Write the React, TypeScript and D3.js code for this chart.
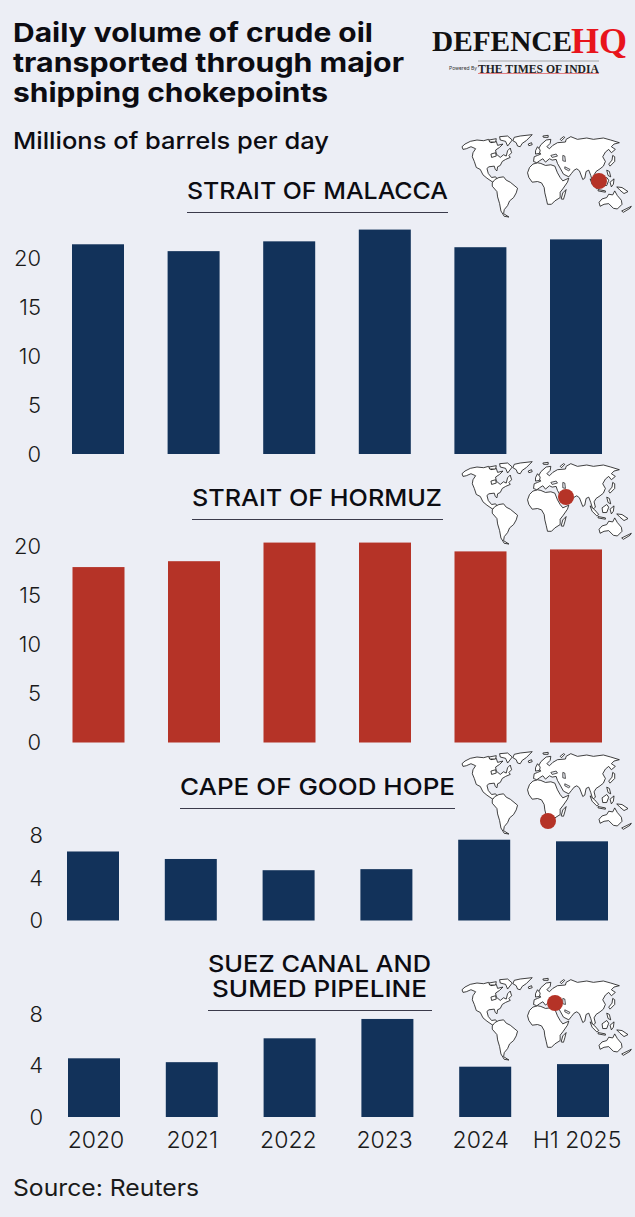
import React from "react";
import * as d3 from "d3";

const years = ["2020", "2021", "2022", "2023", "2024", "H1 2025"];
const malacca = [21.4, 20.7, 21.7, 22.9, 21.1, 21.9];
const hormuz = [17.9, 18.5, 20.4, 20.4, 19.5, 19.7];
const cape = [6.45, 5.75, 4.7, 4.8, 7.55, 7.4];
const suez = [4.55, 4.25, 6.1, 7.6, 3.9, 4.1];
const ticksLarge = [0, 5, 10, 15, 20];
const ticksSmall = [0, 4, 8];

// World outline in map units
const northAmerica: [number, number][] = [[125,440],[134,432],[150,424],[170,420],[190,422],[205,418],[212,428],[228,424],[232,436],[248,432],[238,442],[226,450],[228,462],[240,472],[250,464],[258,468],[262,452],[270,444],[274,458],[266,466],[270,472],[256,478],[246,484],[240,496],[232,500],[230,512],[225,508],[222,498],[206,500],[200,505],[204,520],[214,532],[226,530],[238,545],[230,549],[216,545],[200,534],[188,524],[180,508],[168,502],[162,484],[156,470],[158,458],[166,446],[152,440],[138,446],[128,448]];
const greenland: [number, number][] = [[282,412],[300,408],[336,404],[326,414],[318,422],[306,430],[300,440],[292,438],[288,428],[278,422]];
const southAmerica: [number, number][] = [[224,538],[236,532],[250,530],[258,540],[270,546],[292,564],[288,578],[280,592],[268,602],[262,616],[252,628],[250,640],[266,650],[252,648],[242,632],[238,610],[232,590],[230,574],[216,558],[216,548]];
const africa: [number, number][] = [[322,518],[328,502],[338,492],[352,488],[362,490],[376,496],[392,494],[404,498],[412,518],[420,532],[428,542],[446,534],[442,546],[428,566],[420,576],[420,592],[404,602],[394,612],[382,612],[378,594],[374,578],[372,562],[364,548],[352,544],[336,546],[326,532]];
const eurasia: [number, number][] = [[340,484],[342,470],[352,466],[362,462],[352,452],[362,434],[378,420],[392,418],[390,430],[380,440],[388,446],[398,436],[412,428],[436,426],[438,418],[452,410],[472,418],[500,414],[520,418],[550,414],[572,420],[598,428],[582,432],[574,440],[586,448],[574,458],[566,448],[556,456],[548,470],[556,484],[550,498],[540,506],[528,514],[522,524],[526,540],[518,546],[512,526],[506,510],[498,514],[494,534],[488,538],[478,512],[470,506],[462,510],[454,520],[446,530],[430,522],[420,504],[412,490],[408,478],[396,480],[388,476],[376,486],[368,476],[358,482],[350,488]];
const australia: [number, number][] = [[537,606],[546,596],[560,592],[566,582],[578,584],[584,572],[592,586],[604,600],[606,612],[592,626],[580,624],[566,610],[552,612],[540,618]];
const madagascar: [number, number][] = [[428,578],[438,568],[434,584],[430,597],[423,596]];
const britain: [number, number][] = [[346,452],[352,440],[360,450],[358,460],[346,462]];
const iceland: [number, number][] = [[324,432],[334,428],[336,434],[326,437]];
const japan: [number, number][] = [[566,492],[576,480],[578,466],[584,470],[584,484],[570,498]];
const borneo: [number, number][] = [[546,542],[560,532],[566,540],[560,556],[548,556]];
const sulawesi: [number, number][] = [[570,546],[582,536],[580,552],[574,560]];
const philippines: [number, number][] = [[560,510],[568,514],[572,530],[564,526]];
const newGuinea: [number, number][] = [[590,560],[606,562],[624,574],[612,580],[600,570]];
const sumatra: [number, number][] = [[510,536],[524,548],[536,562],[530,566],[516,552]];
const java: [number, number][] = [[534,568],[556,572],[556,576],[534,572]];
const baffin: [number, number][] = [[238,410],[262,408],[276,420],[262,438],[256,424],[240,420]];
const ellesmere: [number, number][] = [[206,420],[228,416],[226,426],[208,426]];
const victoria: [number, number][] = [[212,462],[226,458],[228,468],[214,472]];
const svalbard: [number, number][] = [[368,408],[384,406],[384,412],[370,412]];
const novaya: [number, number][] = [[420,418],[430,410],[434,412],[424,422]];
const newZealand: [number, number][] = [[605,632],[634,618],[630,624],[610,636]];
const blackSea: [number, number][] = [[392,466],[408,462],[412,468],[396,472]];
const caspian: [number, number][] = [[428,466],[434,468],[436,484],[428,482]];
const persianGulf: [number, number][] = [[434,500],[450,508],[446,512],[434,506]];
const worldShapes = [northAmerica, greenland, southAmerica, africa, eurasia, australia, madagascar, britain, iceland, japan, borneo, sulawesi, philippines, newGuinea, sumatra, java, baffin, ellesmere, victoria, svalbard, novaya, newZealand];
const seaShapes = [blackSea, caspian, persianGulf];

const NAVY = "#12325a";
const RED = "#b53327";
const BG = "#eceef5";
const FONT = "Inter, 'Noto Sans', sans-serif";

const mapX = d3.scaleLinear().domain([125, 645]).range([0, 173]);
const mapY = d3.scaleLinear().domain([405, 650]).range([0, 82]);
const outline = d3.line<[number, number]>().x(d => mapX(d[0])).y(d => mapY(d[1])).curve(d3.curveLinearClosed);

function WorldMap({ top, dotX, dotY }: { top: number; dotX: number; dotY: number }) {
  return (
    <g>
      <g transform={`translate(462,${top})`}>
        {worldShapes.map((s, i) => (
          <path key={i} d={outline(s) as string} fill="#fff" stroke="#111" strokeWidth={0.8} strokeLinejoin="round" />
        ))}
        {seaShapes.map((s, i) => (
          <path key={i} d={outline(s) as string} fill={BG} stroke="#111" strokeWidth={0.7} />
        ))}
      </g>
      <circle cx={dotX} cy={dotY} r={8} fill={RED} />
    </g>
  );
}

function Panel({ values, color, ticks, unit, base, x0, x1, barW, tickX }: { values: number[]; color: string; ticks: number[]; unit: number; base: number; x0: number; x1: number; barW: number; tickX: number }) {
  const x = d3.scalePoint<string>().domain(years).range([x0, x1]);
  const maxTick = d3.max(ticks) as number;
  const y = d3.scaleLinear().domain([0, maxTick]).range([base, base - unit * maxTick]);
  return (
    <g>
      {values.map((v, i) => (
        <rect key={i} x={(x(years[i]) as number) - barW / 2} y={y(v)} width={barW} height={base - y(v)} fill={color} />
      ))}
      {ticks.map(t => (
        <text key={t} x={tickX} y={y(t)} dy="0.36em" textAnchor="end" fontSize={22} fontWeight={300} fill="#1a1a1a" fontFamily={FONT}>{t}</text>
      ))}
    </g>
  );
}

function Heading({ lines, x0, x1, rule }: { lines: { t: string; y: number; a: number; b: number }[]; x0: number; x1: number; rule: number }) {
  return (
    <g>
      {lines.map(l => (
        <text key={l.t} x={l.a} y={l.y} textLength={l.b - l.a} lengthAdjust="spacingAndGlyphs" fontSize={23.5} fontWeight={500} fill="#0c0c12" fontFamily={FONT}>{l.t}</text>
      ))}
      <line x1={x0} x2={x1} y1={rule} y2={rule} stroke="#3a3a4a" strokeWidth={1} />
    </g>
  );
}

export default function App() {
  const xAxis = d3.scalePoint<string>().domain(years).range([96, 577]);
  return (
    <svg width={635} height={1217} viewBox="0 0 635 1217" style={{ position: "absolute", left: 0, top: 0, display: "block", background: BG }}>
      <rect width={635} height={1217} fill={BG} />
      <g fontFamily={FONT} fontWeight={700} fontSize={26} fill="#0c0c12">
        <text x={13} y={42} textLength={360} lengthAdjust="spacingAndGlyphs">Daily volume of crude oil</text>
        <text x={13} y={72} textLength={391} lengthAdjust="spacingAndGlyphs">transported through major</text>
        <text x={13} y={102} textLength={315} lengthAdjust="spacingAndGlyphs">shipping chokepoints</text>
      </g>
      <text x={13} y={149} textLength={316} lengthAdjust="spacingAndGlyphs" fontFamily={FONT} fontWeight={500} fontSize={23.5} fill="#0c0c12">Millions of barrels per day</text>

      <text x={432} y={51} textLength={140} lengthAdjust="spacingAndGlyphs" fontFamily="'Liberation Serif', serif" fontWeight={700} fontSize={30} fill="#111">DEFENCE</text>
      <text x={571} y={53} textLength={56} lengthAdjust="spacingAndGlyphs" fontFamily="'Liberation Serif', serif" fontWeight={700} fontSize={35} fill="#e8141c">HQ</text>
      <text x={449} y={70} textLength={28} lengthAdjust="spacingAndGlyphs" fontFamily={FONT} fontSize={5} fill="#333">Powered By</text>
      <text x={478} y={73} textLength={121} lengthAdjust="spacingAndGlyphs" fontFamily="'Liberation Serif', serif" fontWeight={700} fontSize={12.5} fill="#222">THE TIMES OF INDIA</text>
      <line x1={478} x2={599} y1={61} y2={61} stroke="#777" strokeWidth={0.6} />
      <line x1={478} x2={599} y1={73.5} y2={73.5} stroke="#d33" strokeWidth={0.6} />

      <WorldMap top={135} dotX={599} dotY={181} />
      <WorldMap top={462} dotX={566} dotY={497} />
      <WorldMap top={752} dotX={548} dotY={821} />
      <WorldMap top={978} dotX={555} dotY={1003} />

      <Heading lines={[{ t: "STRAIT OF MALACCA", y: 199, a: 187, b: 448 }]} x0={187} x1={448} rule={212.5} />
      <Heading lines={[{ t: "STRAIT OF HORMUZ", y: 506, a: 192, b: 442 }]} x0={192} x1={443} rule={519.5} />
      <Heading lines={[{ t: "CAPE OF GOOD HOPE", y: 795, a: 180, b: 455 }]} x0={180} x1={455} rule={808.5} />
      <Heading lines={[{ t: "SUEZ CANAL AND", y: 972, a: 208, b: 431 }, { t: "SUMED PIPELINE", y: 997, a: 212, b: 427 }]} x0={208} x1={432} rule={1010.5} />

      <Panel values={malacca} color={NAVY} ticks={ticksLarge} unit={9.8} base={454} x0={98} x1={576} barW={52} tickX={41} />
      <Panel values={hormuz} color={RED} ticks={ticksLarge} unit={9.8} base={742.5} x0={98.5} x1={576} barW={52} tickX={41} />
      <Panel values={cape} color={NAVY} ticks={ticksSmall} unit={10.7} base={920.5} x0={93} x1={582} barW={52} tickX={43} />
      <Panel values={suez} color={NAVY} ticks={ticksSmall} unit={12.9} base={1117} x0={94} x1={583} barW={52} tickX={43} />

      {years.map(y => (
        <text key={y} x={xAxis(y) as number} y={1148} textAnchor="middle" fontFamily={FONT} fontWeight={300} fontSize={23} fill="#1a1a1a">{y}</text>
      ))}
      <text x={13} y={1196} textLength={186} lengthAdjust="spacingAndGlyphs" fontFamily={FONT} fontWeight={400} fontSize={23} fill="#1a1a1a">Source: Reuters</text>
    </svg>
  );
}
